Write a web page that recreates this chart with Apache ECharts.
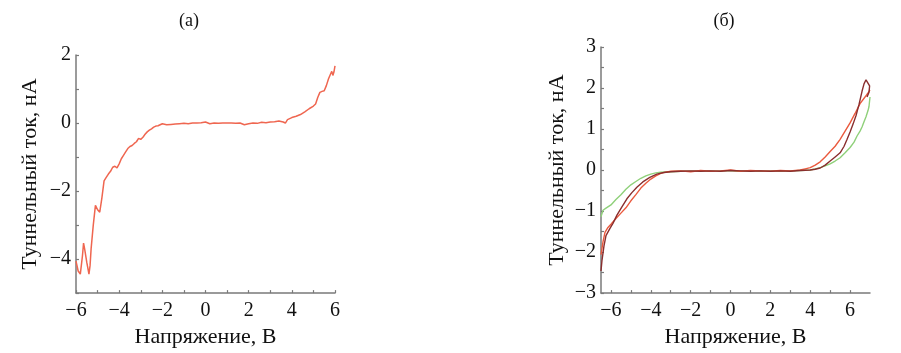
<!DOCTYPE html>
<html><head><meta charset="utf-8">
<script src="https://cdn.jsdelivr.net/npm/echarts@6/dist/echarts.min.js"></script>
<style>html,body{margin:0;padding:0;background:#fff}#c{width:901px;height:353px}</style>
</head><body><div id="c"></div>
<script>
// ---- Panel (а) ----
var voltsA = [-6.0,-5.9,-5.8,-5.7,-5.65,-5.6,-5.5,-5.4,-5.35,-5.3,-5.2,-5.1,-5.0,-4.9,-4.8,-4.7,-4.6,-4.5,-4.4,-4.3,-4.2,-4.1,-4.0,-3.9,-3.8,-3.7,-3.6,-3.5,-3.4,-3.3,-3.2,-3.1,-3.0,-2.9,-2.8,-2.7,-2.6,-2.5,-2.4,-2.3,-2.2,-2.1,-2.0,-1.8,-1.6,-1.4,-1.2,-1.0,-0.8,-0.6,-0.4,-0.2,0,0.2,0.4,0.6,0.8,1.0,1.2,1.4,1.6,1.8,2.0,2.2,2.4,2.6,2.8,3.0,3.2,3.4,3.6,3.7,3.8,4.0,4.2,4.4,4.6,4.8,5.0,5.1,5.2,5.3,5.4,5.5,5.6,5.7,5.8,5.85,5.9,5.95,6.0];
var currentA = [-4.06,-4.35,-4.44,-3.9,-3.53,-3.7,-4.1,-4.44,-4.2,-3.7,-3.0,-2.42,-2.55,-2.62,-2.2,-1.7,-1.6,-1.5,-1.42,-1.3,-1.27,-1.32,-1.2,-1.05,-0.95,-0.85,-0.75,-0.69,-0.66,-0.6,-0.55,-0.45,-0.48,-0.42,-0.33,-0.26,-0.21,-0.17,-0.12,-0.09,-0.08,-0.05,-0.02,-0.05,-0.04,-0.03,-0.02,-0.01,-0.02,0.0,0.0,0.01,0.03,-0.02,0.0,-0.01,0.0,0.0,0.0,-0.01,0.0,-0.05,-0.02,0.0,-0.01,0.02,0.01,0.03,0.04,0.06,0.03,0.0,0.1,0.16,0.2,0.25,0.33,0.42,0.5,0.56,0.75,0.9,0.93,0.95,1.1,1.3,1.45,1.52,1.4,1.5,1.68];

// ---- Panel (б) ----
var voltsGreen = [-6.5,-6.4,-6.25,-6.0,-5.75,-5.5,-5.25,-5.0,-4.75,-4.5,-4.25,-4.0,-3.75,-3.5,-3.0,-2.5,-2.0,-1.5,-1.0,-0.5,0,0.5,1.0,1.5,2.0,2.5,3.0,3.5,4.0,4.25,4.5,4.75,5.0,5.25,5.5,5.75,6.0,6.2,6.35,6.5,6.6,6.7,6.8,6.9,6.95,7.0];
var currentGreen = [-1.14,-0.98,-0.93,-0.85,-0.72,-0.6,-0.47,-0.36,-0.28,-0.2,-0.14,-0.1,-0.07,-0.05,-0.04,-0.03,-0.03,-0.02,-0.03,-0.02,-0.02,-0.03,-0.02,-0.03,-0.02,-0.03,-0.02,-0.01,0.0,0.03,0.06,0.1,0.15,0.22,0.3,0.42,0.55,0.68,0.83,0.95,1.05,1.18,1.3,1.45,1.55,1.78];
var voltsRed = [-6.5,-6.4,-6.3,-6.15,-6.0,-5.75,-5.5,-5.25,-5.0,-4.75,-4.5,-4.25,-4.0,-3.75,-3.5,-3.25,-3.0,-2.5,-2.0,-1.5,-1.0,-0.5,0,0.5,1.0,1.5,2.0,2.5,3.0,3.5,3.75,4.0,4.25,4.5,4.75,5.0,5.25,5.5,5.75,6.0,6.25,6.5,6.75,6.9,7.0];
var currentRed = [-2.06,-1.75,-1.52,-1.4,-1.32,-1.18,-1.05,-0.92,-0.75,-0.6,-0.44,-0.32,-0.22,-0.14,-0.08,-0.05,-0.03,-0.02,-0.04,-0.01,-0.03,-0.02,0.0,-0.03,-0.01,-0.02,-0.03,-0.01,-0.02,0.0,0.03,0.06,0.12,0.2,0.32,0.45,0.58,0.75,0.95,1.15,1.38,1.62,1.78,1.88,1.95];
var voltsDark = [-6.5,-6.45,-6.35,-6.25,-6.05,-5.9,-5.7,-5.45,-5.2,-4.95,-4.7,-4.4,-4.05,-3.7,-3.35,-3.0,-2.5,-2.0,-1.5,-1.0,-0.5,0,0.5,1.0,1.5,2.0,2.5,3.0,3.5,4.0,4.25,4.5,4.75,5.0,5.25,5.5,5.7,5.85,6.0,6.15,6.3,6.45,6.6,6.7,6.8,6.9,6.98,6.95,6.85];
var currentDark = [-2.46,-2.2,-1.85,-1.6,-1.42,-1.3,-1.1,-0.9,-0.7,-0.55,-0.42,-0.29,-0.18,-0.1,-0.06,-0.04,-0.03,-0.02,-0.03,-0.02,-0.03,-0.01,-0.02,-0.03,-0.02,-0.03,-0.02,-0.03,-0.01,0.0,0.02,0.05,0.12,0.22,0.32,0.42,0.58,0.75,0.93,1.12,1.33,1.6,1.92,2.1,2.2,2.18,2.05,1.9,1.78];

var xTicksA = [-6,-5,-4,-3,-2,-1,0,1,2,3,4,5,6];
var xLabelsA = [-6,-4,-2,0,2,4,6];
var yTicksA = [-5,-4,-3,-2,-1,0,1,2];
var yLabelsA = [-4,-2,0,2];
var xTicksB = [-6,-5,-4,-3,-2,-1,0,1,2,3,4,5,6];
var xLabelsB = [-6,-4,-2,0,2,4,6];
var yTicksB = [-3,-2.5,-2,-1.5,-1,-0.5,0,0.5,1,1.5,2,2.5,3];
var yLabelsB = [-3,-2,-1,0,1,2,3];

function zip(xs, ys){ return xs.map(function(x,i){return [x, ys[i]];}); }
var F = 'Liberation Serif';
function fmt(v){ return v < 0 ? '\u2212' + Math.abs(v) : String(v); }
var axisCol = '#7a7a7a';
function xAxis(idx, min, max, ticks, labels){
  return {type:'value', gridIndex:idx, min:min, max:max,
    name:'Напряжение, В', nameLocation:'middle', nameGap:23,
    nameTextStyle:{fontFamily:F, fontSize:22, color:'#111'},
    axisLine:{show:true, onZero:false, lineStyle:{color:axisCol, width:1.5}},
    axisTick:{show:true, inside:true, length:3, customValues:ticks, lineStyle:{color:axisCol, width:1.2}},
    axisLabel:{customValues:labels, formatter:fmt, fontFamily:F, fontSize:20, color:'#111', margin:8},
    splitLine:{show:false}};
}
function yAxis(idx, min, max, ticks, labels, gap){
  return {type:'value', gridIndex:idx, min:min, max:max,
    name:'Туннельный ток, нА', nameLocation:'middle', nameGap:gap, nameRotate:90,
    nameTextStyle:{fontFamily:F, fontSize:22, color:'#111'},
    axisLine:{show:true, onZero:false, lineStyle:{color:axisCol, width:1.5}},
    axisTick:{show:true, inside:true, length:3, customValues:ticks, lineStyle:{color:axisCol, width:1.2}},
    axisLabel:{customValues:labels, formatter:fmt, fontFamily:F, fontSize:20, color:'#111', margin:5},
    splitLine:{show:false}};
}
var chart = echarts.init(document.getElementById('c'), null, {renderer:'canvas'});
chart.setOption({
  animation:false,
  backgroundColor:'#fff',
  title:[
    {text:'(а)', left:184, top:7, textAlign:'center', textStyle:{fontFamily:F, fontSize:18, fontWeight:'normal', color:'#111'}},
    {text:'(б)', left:719, top:7, textAlign:'center', textStyle:{fontFamily:F, fontSize:18, fontWeight:'normal', color:'#111'}}
  ],
  grid:[
    {left:76, right:566, top:55, bottom:56},
    {left:601, right:31, top:47, bottom:57}
  ],
  xAxis:[ xAxis(0,-6,6,xTicksA,xLabelsA), xAxis(1,-6.5,7,xTicksB,xLabelsB) ],
  yAxis:[ yAxis(0,-5,2,yTicksA,yLabelsA,35), yAxis(1,-3,3,yTicksB,yLabelsB,33) ],
  series:[
    {type:'line', xAxisIndex:0, yAxisIndex:0, data:zip(voltsA,currentA), showSymbol:false, lineStyle:{color:'#ef6650', width:1.5}},
    {type:'line', xAxisIndex:1, yAxisIndex:1, data:zip(voltsGreen,currentGreen), showSymbol:false, lineStyle:{color:'#8fd07a', width:1.4}},
    {type:'line', xAxisIndex:1, yAxisIndex:1, data:zip(voltsRed,currentRed), showSymbol:false, lineStyle:{color:'#ea5a3e', width:1.4}},
    {type:'line', xAxisIndex:1, yAxisIndex:1, data:zip(voltsDark,currentDark), showSymbol:false, lineStyle:{color:'#8a2e2e', width:1.4}}
  ]
});
</script></body></html>
